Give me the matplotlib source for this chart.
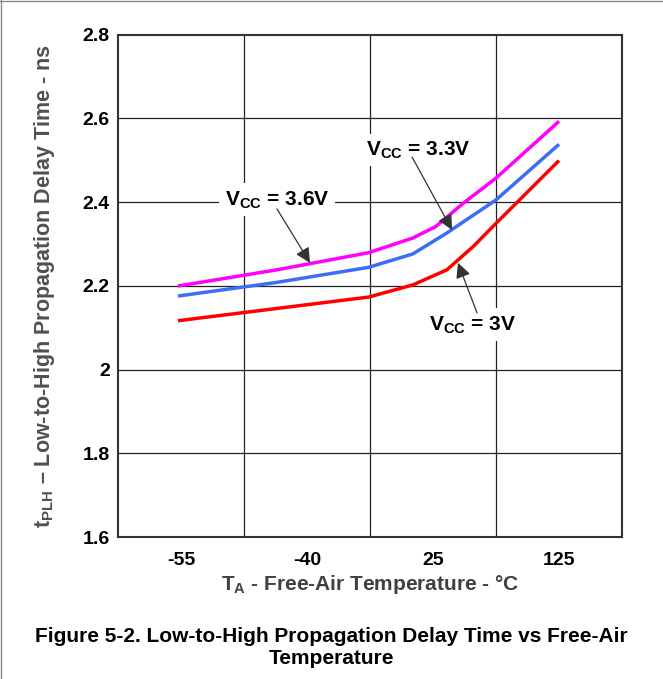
import matplotlib.pyplot as plt
from matplotlib.lines import Line2D

plt.rcParams['font.family'] = ['Liberation Sans', 'DejaVu Sans']
plt.rcParams['mathtext.fontset'] = 'custom'
plt.rcParams['mathtext.rm'] = 'Liberation Sans:bold'
plt.rcParams['mathtext.bf'] = 'Liberation Sans:bold'

# x positions are in "cell" units: grid lines at 0..4, labels in the cell middles
tick_pos = [0.5, 1.5, 2.5, 3.5]
tick_labels = ['-55', '-40', '25', '125']

x_36 = [0.49, 1.26, 1.99, 2.34, 2.52, 2.74, 3.00, 3.49]
y_36 = [2.200, 2.238, 2.279, 2.314, 2.341, 2.397, 2.457, 2.590]

x_33 = [0.49, 1.26, 1.99, 2.34, 2.61, 3.00, 3.49]
y_33 = [2.176, 2.208, 2.244, 2.276, 2.326, 2.405, 2.535]

x_30 = [0.49, 1.99, 2.34, 2.61, 2.82, 3.00, 3.49]
y_30 = [2.117, 2.173, 2.202, 2.238, 2.294, 2.349, 2.496]

fig = plt.figure(figsize=(6.63, 6.79), dpi=100)
ax = fig.add_axes([118 / 663, 1 - 537 / 679, 504 / 663, 502.5 / 679])

ax.plot(x_36, y_36, color='#ff00ff', lw=2.5, zorder=3)
ax.plot(x_33, y_33, color='#3d6cf5', lw=2.5, zorder=3)
ax.plot(x_30, y_30, color='#ff0000', lw=2.5, zorder=3)

ax.set_xlim(0, 4)
ax.set_ylim(1.6, 2.8)
for gx in [1, 2, 3]:
    ax.axvline(gx, color='#222222', lw=0.9, zorder=1)
for gy in [1.8, 2.0, 2.2, 2.4, 2.6]:
    ax.axhline(gy, color='#222222', lw=0.9, zorder=1)

ax.set_xticks(tick_pos)
ax.set_xticklabels(tick_labels)
ax.set_yticks([1.6, 1.8, 2.0, 2.2, 2.4, 2.6, 2.8])
ax.set_yticklabels(['1.6', '1.8', '2', '2.2', '2.4', '2.6', '2.8'])
ax.tick_params(length=0, labelsize=14)
ax.tick_params(axis='x', pad=11)
ax.tick_params(axis='y', pad=6)
for lab in ax.get_xticklabels() + ax.get_yticklabels():
    lab.set_fontweight('bold')
for sp in ax.spines.values():
    sp.set_linewidth(1.5)
    sp.set_color('#333333')

ax.set_xlabel('T$_\\mathrm{A}$ - Free-Air Temperature - °C', fontsize=15,
              fontweight='bold', color='#404040', labelpad=3)
ax.set_ylabel('t$_\\mathrm{PLH}$ – Low-to-High Propagation Delay Time - ns',
              fontsize=15.5, fontweight='bold', color='#505050', labelpad=18)

box = dict(facecolor='white', edgecolor='none', pad=4)
arrow = dict(arrowstyle='-|>,head_length=0.9,head_width=0.45', color='#333333',
             lw=0.9, shrinkA=0, shrinkB=0)


def px(xp, yp):
    return ((xp - 118) / 126, 2.8 - (yp - 34.5) / 419)


ax.text(*px(277, 200), 'V$_\\mathrm{CC}$ = 3.6V', ha='center', va='center',
        fontsize=15, fontweight='bold', bbox=box, zorder=4)
ax.annotate('', xy=px(310, 263), xytext=px(277, 209), arrowprops=arrow, zorder=5)

ax.text(*px(418, 150), 'V$_\\mathrm{CC}$ = 3.3V', ha='center', va='center',
        fontsize=15, fontweight='bold', bbox=box, zorder=4)
ax.annotate('', xy=px(452, 230), xytext=px(412, 157), arrowprops=arrow, zorder=5)

ax.text(*px(473, 325), 'V$_\\mathrm{CC}$ = 3V', ha='center', va='center',
        fontsize=15, fontweight='bold', bbox=box, zorder=4)
ax.annotate('', xy=px(458, 263), xytext=px(477, 313), arrowprops=arrow, zorder=5)

fig.text(0.5, 1 - 637 / 679, 'Figure 5-2. Low-to-High Propagation Delay Time vs Free-Air',
         ha='center', va='center', fontsize=15, fontweight='bold')
fig.text(0.5, 1 - 659 / 679, 'Temperature', ha='center', va='center',
         fontsize=15, fontweight='bold')

# thin frame on the left and top edges, as in the source crop
fig.add_artist(Line2D([0.001, 0.001], [0, 1], color='#888888', lw=1))
fig.add_artist(Line2D([0, 1], [0.999, 0.999], color='#888888', lw=1))

fig.savefig('out.png', dpi=100)
